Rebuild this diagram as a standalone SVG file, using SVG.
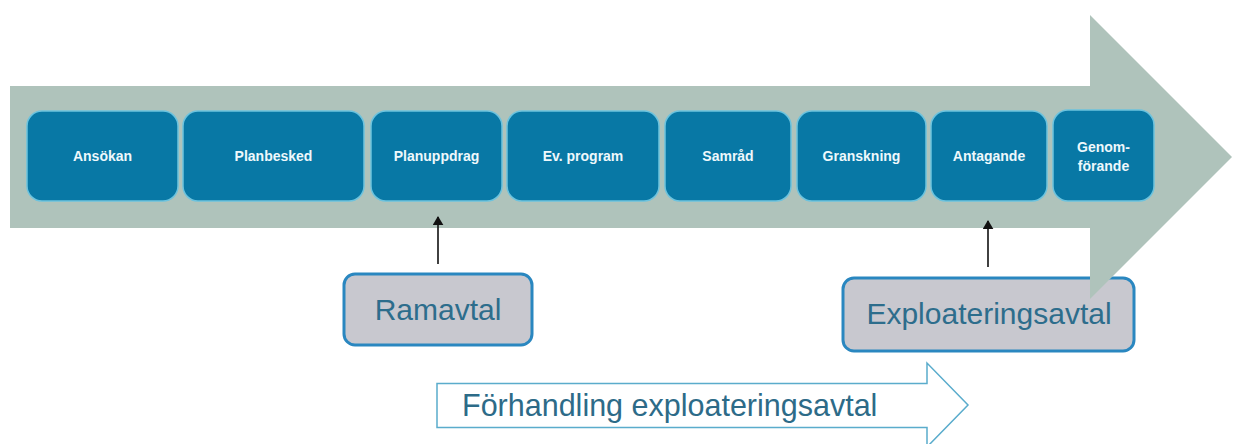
<svg xmlns="http://www.w3.org/2000/svg" width="1233" height="444" viewBox="0 0 1233 444">
  <defs>
    <marker id="ah" viewBox="0 0 10 12" refX="9" refY="6" markerWidth="9" markerHeight="11" markerUnits="userSpaceOnUse" orient="auto">
      <path d="M0,0 L10,6 L0,12 z" fill="#111"/>
    </marker>
    <style>
      .step rect { fill: #0878a5; stroke: #6cc3de; stroke-width: 1.5; }
      .step text { fill: #eef8fc; font-family: "Liberation Sans", Arial, sans-serif; font-size: 14px; font-weight: bold; text-anchor: middle; }
      .agree rect { fill: #c8c8cf; stroke: #2a87c0; stroke-width: 3; }
      .agree text { fill: #2d6d8c; font-family: "Liberation Sans", Arial, sans-serif; font-size: 30px; text-anchor: middle; }
      .conn line { stroke: #111; stroke-width: 1.6; marker-end: url(#ah); }
    </style>
  </defs>
  <rect width="1233" height="444" fill="#ffffff"/>

  <g id="exploateringsavtal" class="agree">
    <rect x="843" y="278" width="291" height="73" rx="11"/>
    <text x="989" y="324">Exploateringsavtal</text>
  </g>

  <g id="process-arrow">
    <path d="M10,86 L1090,86 L1090,15 L1232,157 L1090,299 L1090,228 L10,228 z" fill="#afc3bb"/>
  </g>

  <g id="ansokan" class="step">
    <rect x="27" y="111" width="151" height="90" rx="15"/>
    <text x="102.5" y="161">Ansökan</text>
  </g>
  <g id="planbesked" class="step">
    <rect x="183" y="111" width="181" height="90" rx="15"/>
    <text x="273.5" y="161">Planbesked</text>
  </g>
  <g id="planuppdrag" class="step">
    <rect x="371" y="111" width="131" height="90" rx="15"/>
    <text x="436.5" y="161">Planuppdrag</text>
  </g>
  <g id="ev-program" class="step">
    <rect x="507" y="111" width="152" height="90" rx="15"/>
    <text x="583" y="161">Ev. program</text>
  </g>
  <g id="samrad" class="step">
    <rect x="665" y="111" width="126" height="90" rx="15"/>
    <text x="728" y="161">Samråd</text>
  </g>
  <g id="granskning" class="step">
    <rect x="797" y="111" width="129" height="90" rx="15"/>
    <text x="861.5" y="161">Granskning</text>
  </g>
  <g id="antagande" class="step">
    <rect x="931" y="111" width="116" height="90" rx="15"/>
    <text x="989" y="161">Antagande</text>
  </g>
  <g id="genomforande" class="step">
    <rect x="1053" y="110" width="101" height="91" rx="15"/>
    <text x="1103.5" y="152">Genom-</text>
    <text x="1103.5" y="171">förande</text>
  </g>

  <g id="ramavtal" class="agree">
    <rect x="344" y="274" width="188" height="71" rx="11"/>
    <text x="438" y="320">Ramavtal</text>
  </g>

  <g id="forhandling">
    <path d="M437,383.5 L927,383.5 L927,363 L968,405 L927,447 L927,427.5 L437,427.5 z" fill="#ffffff" stroke="#5aaccc" stroke-width="1.5"/>
    <text x="462" y="416" fill="#2d6b88" font-family="Liberation Sans, Arial, sans-serif" font-size="30.5">Förhandling exploateringsavtal</text>
  </g>

  <g id="connectors" class="conn">
    <line x1="438" y1="264" x2="438" y2="217"/>
    <line x1="988" y1="267" x2="988" y2="221"/>
  </g>
</svg>
